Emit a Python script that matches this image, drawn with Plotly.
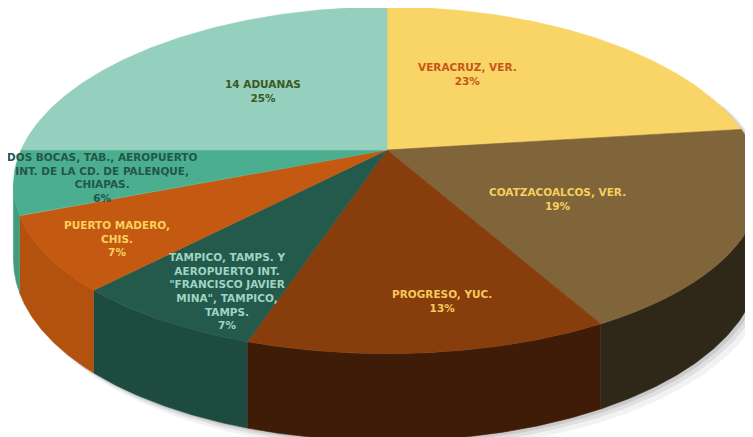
import numpy as np
import plotly.graph_objects as go

# ---- data ----
categories = [
    "VERACRUZ, VER.",
    "COATZACOALCOS, VER.",
    "PROGRESO, YUC.",
    "TAMPICO, TAMPS. Y<br>AEROPUERTO INT.<br>\"FRANCISCO JAVIER<br>MINA\", TAMPICO,<br>TAMPS.",
    "PUERTO MADERO,<br>CHIS.",
    "DOS BOCAS, TAB., AEROPUERTO<br>INT. DE LA CD. DE PALENQUE,<br>CHIAPAS.",
    "14 ADUANAS",
]
shares = [23, 19, 13, 7, 7, 6, 25]

# ---- styles ----
top_colors = ["#F9D466", "#7F6539", "#873D0C", "#235A4C", "#C45A12", "#4BAE8E", "#95CFBD"]
side_colors = ["#C9A94F", "#2F2717", "#3F1C07", "#1D4B3F", "#B3510F", "#3F9C7E", "#7DB8A6"]
text_colors = ["#C8561A", "#F6CF5E", "#F6C95A", "#9FD4C2", "#F9D25E", "#22574A", "#3A5A1E"]
label_pos = [(467, 74), (557, 199), (442, 301), (227, 291), (117, 238), (102, 177), (263, 91)]

W, H = 753, 437
OFF = 8                # page body margin compensation
CX, CY = 387, 150      # pie centre on screen
A, B = 366, 168.0      # horizontal / vertical radii scale
KX, KY = 0.2, 0.175    # perspective factors
DEPTH = 72             # wall thickness


def proj(theta_deg, r=1.0, down=0.0):
    t = np.radians(theta_deg)
    u = r * np.sin(t)
    v = r * np.cos(t)
    sx = 1.0 / (1.0 + KX * v)
    sy = 1.0 / (1.0 + KY * v)
    return CX + A * u * sx, CY - B * v * sy + down * sy


fig = go.Figure()

total = float(sum(shares))
bounds = np.concatenate([[0], np.cumsum(shares)]) / total * 360.0

vis_lo = np.degrees(np.arccos(-KX))
vis_hi = 360 - vis_lo

# soft shadow
th = np.linspace(vis_lo - 30, vis_hi, 200)
for off, a in [(10, 0.05), (6, 0.07), (3, 0.09)]:
    xs_top, ys_top = proj(th, 1.0, 0)
    xs_b, ys_b = proj(th, 1.0, DEPTH)
    xs = np.concatenate([xs_top + off, (xs_b + off)[::-1]])
    ys = np.concatenate([ys_top + off * 0.6, (ys_b + off)[::-1]])
    fig.add_trace(go.Scatter(x=xs, y=ys, fill="toself", mode="lines",
                             line=dict(width=0), fillcolor=f"rgba(0,0,0,{a})",
                             hoverinfo="skip", showlegend=False))

# side walls
for i in range(len(shares)):
    a0, a1 = bounds[i], bounds[i + 1]
    lo, hi = max(a0, vis_lo), min(a1, vis_hi)
    if hi <= lo:
        continue
    th = np.linspace(lo, hi, 80)
    xt, yt = proj(th, 1.0, 0)
    xb, yb = proj(th, 1.0, DEPTH)
    xs = np.concatenate([xt, xb[::-1]])
    ys = np.concatenate([yt, yb[::-1]])
    fig.add_trace(go.Scatter(x=xs, y=ys, fill="toself", mode="lines",
                             line=dict(width=0.6, color=side_colors[i]),
                             fillcolor=side_colors[i], hoverinfo="skip", showlegend=False))

# top faces
for i in range(len(shares)):
    a0, a1 = bounds[i], bounds[i + 1]
    th = np.linspace(a0, a1, 120)
    xa, ya = proj(th, 1.0, 0)
    xs = np.concatenate([[CX], xa, [CX]])
    ys = np.concatenate([[CY], ya, [CY]])
    fig.add_trace(go.Scatter(x=xs, y=ys, fill="toself", mode="lines",
                             line=dict(width=0.6, color=top_colors[i]),
                             fillcolor=top_colors[i], hoverinfo="skip", showlegend=False))

# labels
for i, (cat, val) in enumerate(zip(categories, shares)):
    x, y = label_pos[i]
    fig.add_annotation(x=x, y=y, xref="x", yref="y",
                       text=f"{cat}<br>{val}%", showarrow=False,
                       xanchor="center", yanchor="middle", align="center",
                       font=dict(family="DejaVu Sans", size=10.5, color=text_colors[i], weight="bold"))

fig.update_layout(
    width=W, height=H,
    margin=dict(l=0, r=0, t=0, b=0),
    paper_bgcolor="white", plot_bgcolor="white",
    xaxis=dict(range=[OFF, W + OFF], visible=False, fixedrange=True),
    yaxis=dict(range=[H + OFF, OFF], visible=False, fixedrange=True),
    showlegend=False,
)

fig.write_html("out.html")
